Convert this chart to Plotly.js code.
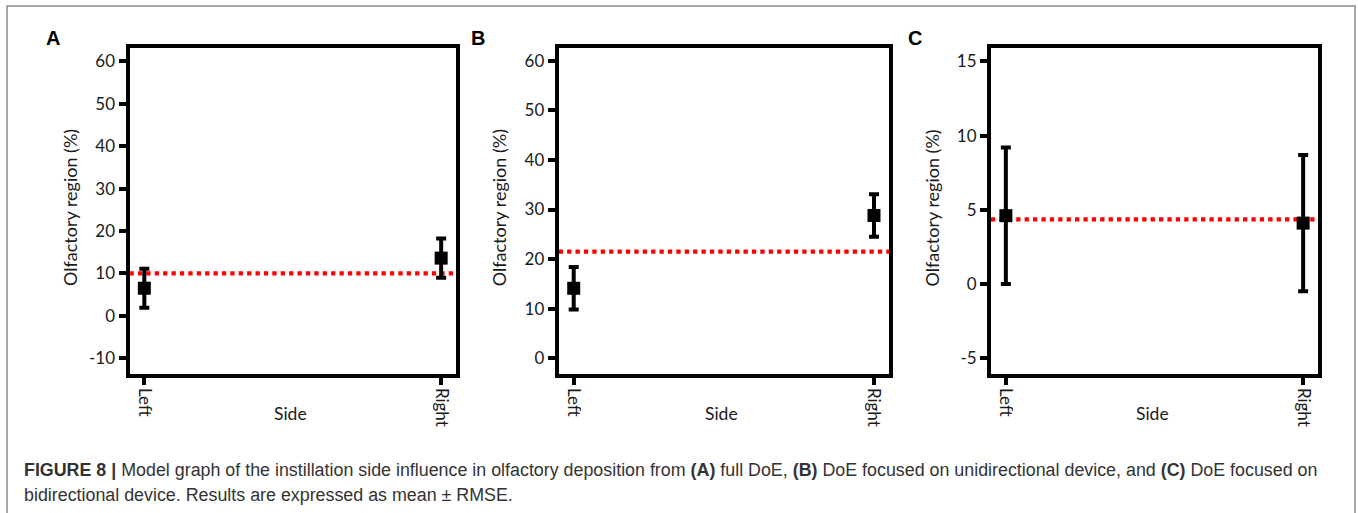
<!DOCTYPE html>
<html>
<head>
<meta charset="utf-8">
<script src="https://cdn.plot.ly/plotly-3.0.1.min.js"></script>
<style>html,body{margin:0;padding:0;background:#fff;}#chart{width:1358px;height:513px;}</style>
</head>
<body>
<div id="chart"></div>
<script>
// ---- data ----
const sides = ['Left', 'Right'];
const panelLabels = ['A', 'B', 'C'];
const meanA = [6.5, 13.6];
const errA = [4.6, 4.6];
const refA = 10.0;
const meanB = [14.1, 28.8];
const errB = [4.3, 4.3];
const refB = 21.5;
const meanC = [4.6, 4.1];
const errC = [4.6, 4.6];
const refC = 4.35;
const ticksA = [-10, 0, 10, 20, 30, 40, 50, 60];
const tickTextA = ['-10', '0', '10', '20', '30', '40', '50', '60'];
const ticksB = [0, 10, 20, 30, 40, 50, 60];
const tickTextB = ['0', '10', '20', '30', '40', '50', '60'];
const ticksC = [-5, 0, 5, 10, 15];
const tickTextC = ['-5', '0', '5', '10', '15'];
const yTitle = 'Olfactory region (%)';
const xTitle = 'Side';
const captionLine1 = '<b>FIGURE 8 |</b> Model graph of the instillation side influence in olfactory deposition from <b>(A)</b> full DoE, <b>(B)</b> DoE focused on unidirectional device, and <b>(C)</b> DoE focused on';
const captionLine2 = 'bidirectional device. Results are expressed as mean ± RMSE.';

// ---- layout helpers ----
const W = 1358, H = 513;
const px = v => v / W;
const py = v => 1 - v / H;
const plotLeft = [129.5, 558.7, 991];
const plotRight = [456, 889, 1318];
const plotTop = 47.5, plotBottom = 373.5;
const yRanges = [[-13.6, 63.25], [-3.1, 62.7], [-6.04, 15.94]];
const means = [meanA, meanB, meanC];
const errs = [errA, errB, errC];
const refs = [refA, refB, refC];
const ticks = [ticksA, ticksB, ticksC];
const tickTexts = [tickTextA, tickTextB, tickTextC];
const letterX = [53, 477.5, 915];

const tickFont = {family: 'Lato, sans-serif', size: 17, color: '#1a1a1a'};
const data = [];
const layout = {
  width: W, height: H,
  margin: {l: 0, r: 0, t: 0, b: 0},
  paper_bgcolor: '#ffffff', plot_bgcolor: '#ffffff',
  showlegend: false,
  shapes: [], annotations: []
};

for (let i = 0; i < 3; i++) {
  const sfx = i === 0 ? '' : String(i + 1);
  data.push({
    type: 'scatter', mode: 'markers',
    x: sides, y: means[i],
    xaxis: 'x' + sfx, yaxis: 'y' + sfx,
    marker: {symbol: 'square', size: 13, color: '#000'},
    error_y: {type: 'data', array: errs[i], visible: true, color: '#000', thickness: 4, width: 5},
    cliponaxis: false,
    hoverinfo: 'x+y'
  });
  layout['xaxis' + sfx] = {
    domain: [px(plotLeft[i]), px(plotRight[i])],
    anchor: 'y' + sfx,
    type: 'category',
    range: [-0.05, 1.05],
    showline: true, linecolor: '#000', linewidth: 4, mirror: true,
    ticks: 'outside', ticklen: 7, tickwidth: 4, tickcolor: '#000',
    tickangle: 90, tickfont: tickFont,
    showgrid: false, zeroline: false, fixedrange: true
  };
  layout['yaxis' + sfx] = {
    domain: [py(plotBottom), py(plotTop)],
    anchor: 'x' + sfx,
    range: yRanges[i],
    tickmode: 'array', tickvals: ticks[i], ticktext: tickTexts[i],
    showline: true, linecolor: '#000', linewidth: 4, mirror: true,
    ticks: 'outside', ticklen: 7, tickwidth: 4, tickcolor: '#000',
    tickfont: tickFont,
    showgrid: false, zeroline: false, fixedrange: true
  };
  layout.shapes.push({
    type: 'line', layer: 'below',
    xref: 'x' + sfx + ' domain', yref: 'y' + sfx,
    x0: 0, x1: 1, y0: refs[i], y1: refs[i],
    line: {color: '#ff0000', width: 4.3, dash: '4.3px,4.1px'}
  });
  // y title
  layout.annotations.push({
    text: yTitle, textangle: -90, showarrow: false,
    xref: 'paper', yref: 'paper',
    x: px(plotLeft[i] - 59.5), y: py(208), xanchor: 'center', yanchor: 'middle',
    font: {family: 'Lato, sans-serif', size: 18, color: '#1a1a1a'}
  });
  // x title
  layout.annotations.push({
    text: xTitle, showarrow: false,
    xref: 'paper', yref: 'paper',
    x: px((plotLeft[i] + plotRight[i]) / 2 - 2), y: py(413), xanchor: 'center', yanchor: 'middle',
    font: {family: 'Lato, sans-serif', size: 17.5, color: '#1a1a1a'}
  });
  // panel letter
  layout.annotations.push({
    text: '<b>' + panelLabels[i] + '</b>', showarrow: false,
    xref: 'paper', yref: 'paper',
    x: px(letterX[i]), y: py(38), xanchor: 'center', yanchor: 'middle',
    font: {family: 'Liberation Sans, Arial, sans-serif', size: 20, color: '#000'}
  });
}

// caption
layout.annotations.push({
  text: captionLine1, showarrow: false, xref: 'paper', yref: 'paper',
  x: px(22), y: py(469.5), xanchor: 'left', yanchor: 'middle', align: 'left',
  font: {family: 'Liberation Sans, Arial, sans-serif', size: 17.85, color: '#333'}
});
layout.annotations.push({
  text: captionLine2, showarrow: false, xref: 'paper', yref: 'paper',
  x: px(22), y: py(495), xanchor: 'left', yanchor: 'middle', align: 'left',
  font: {family: 'Liberation Sans, Arial, sans-serif', size: 17.85, color: '#333'}
});

// outer figure frame
layout.shapes.push({
  type: 'rect', xref: 'paper', yref: 'paper', layer: 'above',
  x0: px(7), x1: px(1355), y0: -0.2, y1: py(6),
  line: {color: '#8a8a8a', width: 1.5}
});

Plotly.newPlot('chart', data, layout, {displayModeBar: false, staticPlot: true});
</script>
</body>
</html>
